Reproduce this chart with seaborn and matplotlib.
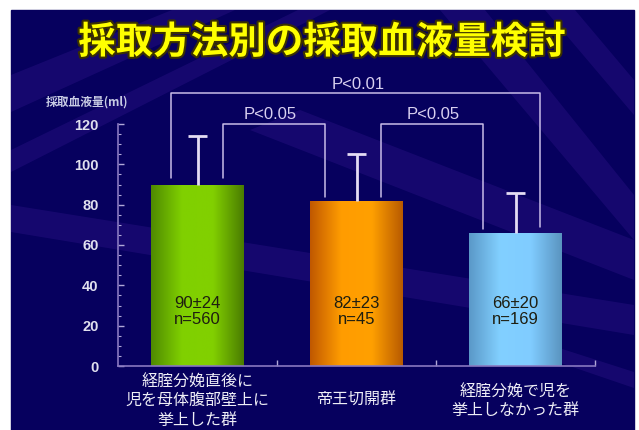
import numpy as np
import pandas as pd
import matplotlib
matplotlib.use("Agg")
import matplotlib.pyplot as plt
import seaborn as sns
from matplotlib.patches import Rectangle, Polygon
from matplotlib.ticker import MultipleLocator, FixedLocator
from matplotlib.colors import LinearSegmentedColormap
import matplotlib.patheffects as pe

# ---- data ----
groups = ["経腟分娩直後に\n児を母体腹部壁上に\n挙上した群", "帝王切開群", "経腟分娩で児を\n挙上しなかった群"]
means = [90, 82, 66]
sds = [24, 23, 20]
ns = [560, 45, 169]
p_labels = ["P<0.05", "P<0.05", "P<0.01"]
title = "採取方法別の採取血液量検討"
ylabel = "採取血液量(ml)"
yticks = [0, 20, 40, 60, 80, 100, 120]

sns.set_theme(style="white")
plt.rcParams['font.family'] = ['Noto Sans CJK JP', 'DejaVu Sans']

W, H = 639, 430
fig = plt.figure(figsize=(W / 100, H / 100), dpi=100)
fig.patch.set_facecolor("white")

def px(x, y):
    return (x / W, 1 - y / H)

# slide background
navy = "#06005e"
fig.patches.append(Rectangle(px(11, 430), (634 - 11) / W, (430 - 10) / H,
                             transform=fig.transFigure, color=navy, zorder=-10))
rays = [
    [(11, 75), (11, 112), (235, 10), (172, 10)],
    [(11, 150), (11, 172), (330, 10), (298, 10)],
    [(440, 10), (485, 10), (634, 195), (634, 240)],
    [(545, 10), (575, 10), (634, 80), (634, 115)],
    [(11, 205), (11, 232), (634, 335), (634, 305)],
    [(470, 332), (478, 322), (634, 372), (634, 388)],
    [(250, 130), (300, 110), (634, 240), (634, 280)],
]
for r in rays:
    fig.patches.append(Polygon([px(x, y) for x, y in r], closed=True,
                               transform=fig.transFigure, color="#2e1288",
                               alpha=0.4, zorder=-9, lw=0))

ax = fig.add_axes([118 / W, 1 - 366 / H, (595 - 118) / W, (366 - 124) / H])
ax.set_facecolor("none")

df = pd.DataFrame({"group": groups, "mean": means})
base_colors = ["#7cc800", "#ff9900", "#7ccaff"]
sns.barplot(data=df, x="group", y="mean", hue="group", palette=base_colors,
            legend=False, width=0.58, ax=ax, zorder=2, linewidth=0)

# gradient fill for each bar
grads = [
    ["#4f8a00", "#80d000", "#82d000", "#4a7c00"],
    ["#c05800", "#ff9c00", "#ffa000", "#b85a00"],
    ["#5a98c8", "#82d0ff", "#80ccff", "#5a94c0"],
]
for patch, g in zip(ax.patches, grads):
    x0, y0 = patch.get_x(), patch.get_y()
    w, h = patch.get_width(), patch.get_height()
    cmap = LinearSegmentedColormap.from_list("g", g)
    grad = np.linspace(0, 1, 256).reshape(1, -1)
    im = ax.imshow(grad, cmap=cmap, aspect="auto", extent=[x0, x0 + w, y0, y0 + h],
                   zorder=2.5)
    im.set_clip_path(patch)

# error bars (upward only)
xs = np.arange(len(means))
tops = np.array(means) + np.array(sds)
ecol = "#e4dcf4"
ax.vlines(xs, means, tops, color=ecol, lw=2, zorder=3)
ax.hlines(tops, xs - 0.058, xs + 0.058, color=ecol, lw=2, zorder=3)

# value labels
for i, (m, s, n) in enumerate(zip(means, sds, ns)):
    ax.text(i, 27, f"{m}±{s}\nn={n}", ha="center", va="center", fontsize=12,
            color="#1e1e10", linespacing=1.15, family=["Liberation Sans"], zorder=4)

# significance brackets
bcol = "#c8bce8"
brackets = [
    (0.160, 0.802, 120, 93, 84, 0.46, 124.8),
    (1.154, 1.796, 120, 84, 68, 1.48, 124.8),
    (-0.167, 2.154, 135.6, 93, 69, 1.01, 139.8),
]
for (x1, x2, yt, yb1, yb2, tx, ty), lab in zip(brackets, p_labels):
    ax.plot([x1, x1, x2, x2], [yb1, yt, yt, yb2], color=bcol, lw=1.1,
            clip_on=False, zorder=3)
    ax.text(tx, ty, lab, ha="center", va="center", fontsize=12, color="#d8d0f0",
            family=["Liberation Sans"], clip_on=False)

# axes styling
ax.set_xlim(-0.5, 2.5)
ax.set_ylim(0, 120)
for s in ["top", "right"]:
    ax.spines[s].set_visible(False)
for s in ["left", "bottom"]:
    ax.spines[s].set_color("#8878c0")
    ax.spines[s].set_linewidth(1.2)
ax.set_xlabel("")
ax.set_ylabel("")
ax.set_yticks(yticks)
ax.yaxis.set_minor_locator(MultipleLocator(5))
ax.tick_params(axis="y", which="major", direction="in", length=4, width=1,
               color="#b0a8d8", labelcolor="#e0e0ee", labelsize=10.5, pad=14, left=True)
ax.tick_params(axis="y", which="minor", direction="in", length=2, width=0.8,
               color="#b0a8d8", left=True)
for lab in ax.get_yticklabels():
    lab.set_family(["Liberation Sans"])
    lab.set_fontweight("bold")

ax.set_xticks(xs)
ax.set_xticklabels(groups)
ax.xaxis.set_minor_locator(FixedLocator([0.5, 1.5, 2.5]))
ax.tick_params(axis="x", which="major", length=0, pad=25, labelsize=11.5,
               labelcolor="#eeeef6")
ax.tick_params(axis="x", which="minor", direction="in", length=4, width=1,
               color="#b0a8d8", bottom=True)
for lab in ax.get_xticklabels():
    lab.set_verticalalignment("center")
    lab.set_linespacing(1.2)

# y label
fig.text(87 / W, 1 - 102 / H, ylabel, ha="center", va="center", fontsize=8.5,
         color="#c8cce4", fontweight="bold")

# title
fig.text(322 / W, 1 - 42 / H, title, ha="center", va="center", fontsize=27,
         color="#ffff00", fontweight="bold",
         path_effects=[pe.withStroke(linewidth=3, foreground="#3a3000")])

fig.savefig("out.png", dpi=100)
